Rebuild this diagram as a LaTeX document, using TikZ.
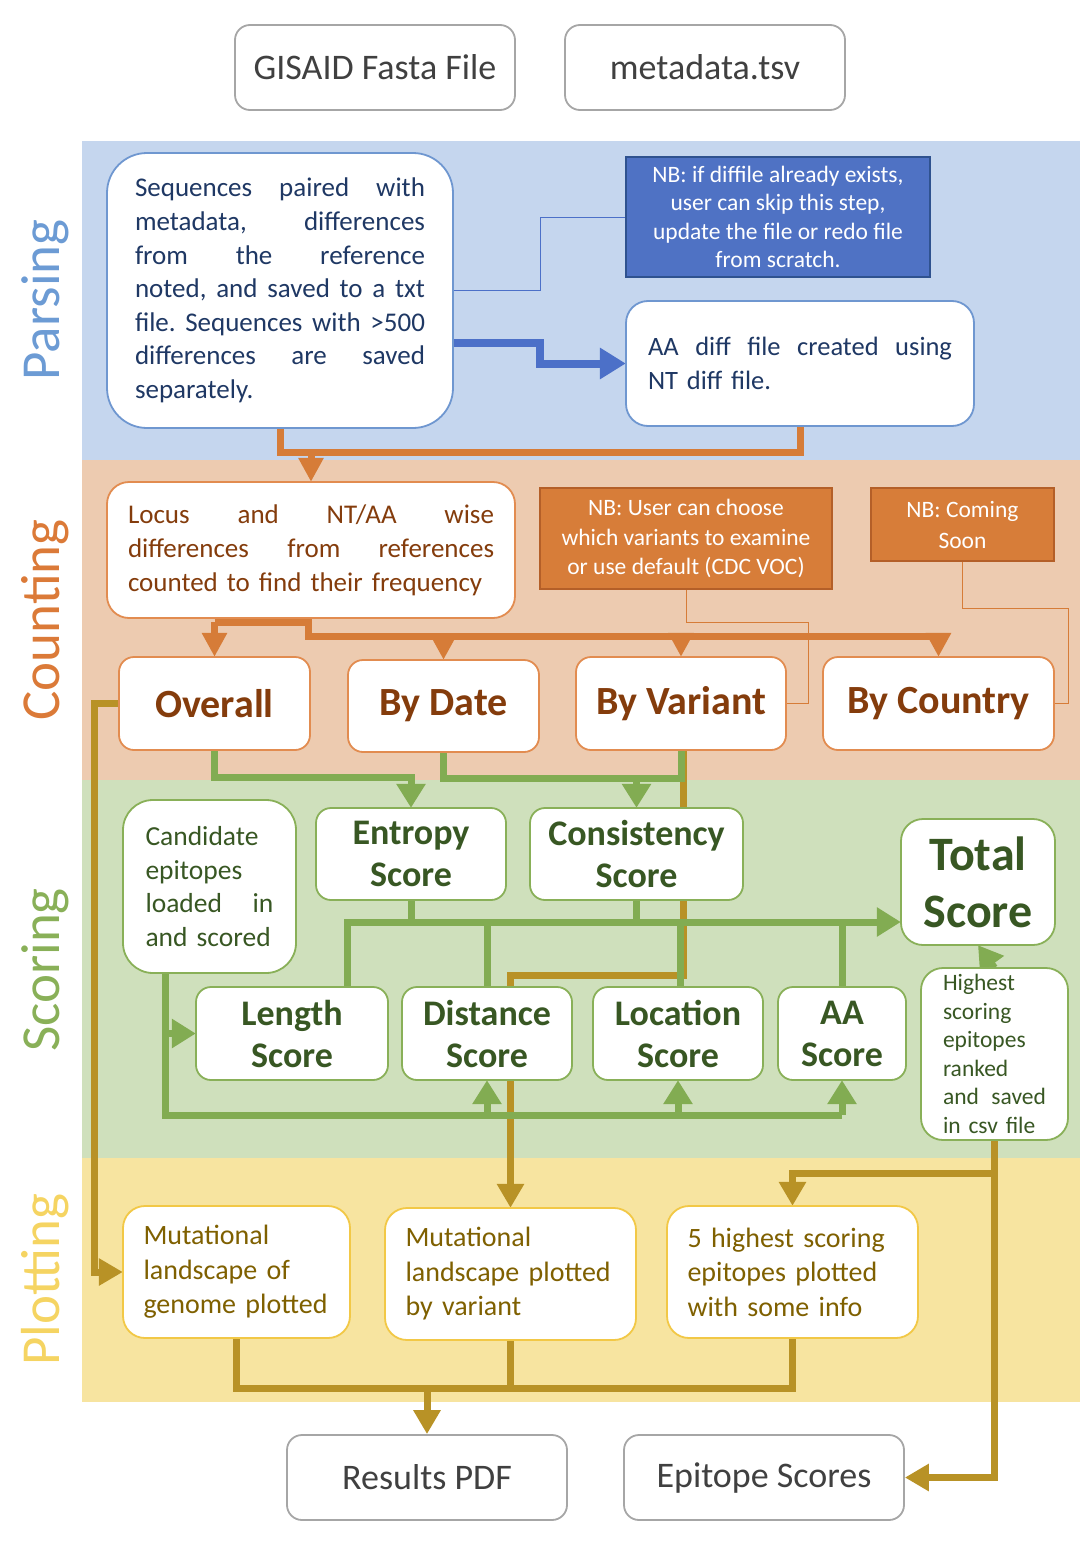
\documentclass[tikz,border=0pt]{standalone}
\usepackage{fontspec}
\setmainfont{Carlito}
\usetikzlibrary{arrows.meta,calc}
\definecolor{bandblue}{RGB}{197,214,238}
\definecolor{bandorange}{RGB}{237,203,176}
\definecolor{bandgreen}{RGB}{207,224,188}
\definecolor{bandyellow}{RGB}{247,228,160}
\definecolor{lblblue}{RGB}{108,155,212}
\definecolor{lblorange}{RGB}{219,122,56}
\definecolor{lblgreen}{RGB}{137,176,88}
\definecolor{lblyellow}{RGB}{245,212,98}
\definecolor{grayb}{RGB}{166,166,166}
\definecolor{grayt}{RGB}{64,64,64}
\definecolor{blueb}{RGB}{111,151,208}
\definecolor{bluet}{RGB}{31,56,100}
\definecolor{nbblue}{RGB}{79,114,196}
\definecolor{nbblueb}{RGB}{47,82,143}
\definecolor{orangeb}{RGB}{226,140,80}
\definecolor{oranget}{RGB}{132,60,12}
\definecolor{nborange}{RGB}{215,125,57}
\definecolor{nborangeb}{RGB}{180,95,40}
\definecolor{greenb}{RGB}{137,176,88}
\definecolor{greent}{RGB}{56,87,35}
\definecolor{yellowb}{RGB}{242,200,70}
\definecolor{yellowt}{RGB}{127,96,0}
\definecolor{lineblue}{RGB}{76,112,200}
\definecolor{lineorange}{RGB}{214,124,56}
\definecolor{linegreen}{RGB}{130,172,82}
\definecolor{linegold}{RGB}{184,146,38}
\newcommand\jl[2]{\leavevmode\hbox to #1{#2}}
\newcommand\fs[2]{\fontsize{#1}{#2}\selectfont}
\tikzset{
  box/.style={draw, line width=1.8pt, fill=white, inner sep=0pt, rounded corners=15pt},
  graybox/.style={box, draw=grayb, text=grayt, font=\fs{36}{40}},
  bluebox/.style={box, draw=blueb, text=bluet, font=\fs{27}{33.6}, align=left},
  nbbluebox/.style={draw=nbblueb, fill=nbblue, line width=1.8pt, text=white, inner sep=0pt, align=center, font=\fs{23.5}{28.6}},
  orangebox/.style={box, draw=orangeb, text=oranget},
  nborangebox/.style={draw=nborangeb, fill=nborange, line width=1.8pt, text=white, inner sep=0pt, align=center, font=\fs{23.5}{29.5}},
  greenbox/.style={box, draw=greenb, text=greent},
  yellowbox/.style={box, draw=yellowb, text=yellowt, font=\fs{28}{34.5}, align=left, rounded corners=22pt},
  bandlabel/.style={rotate=90, font=\fs{55}{60}, inner sep=0pt},
  bthin/.style={draw=lineblue, line width=1pt},
  bthick/.style={draw=lineblue, line width=8pt, -{Triangle[length=26pt,width=30pt]}},
  othin/.style={draw=lineorange, line width=1pt},
  oline/.style={draw=lineorange, line width=7pt},
  oarrow/.style={oline, -{Triangle[length=24pt,width=24pt]}},
  gline/.style={draw=linegreen, line width=7pt},
  garrow/.style={gline, -{Triangle[length=24pt,width=28pt]}},
  goldline/.style={draw=linegold, line width=7pt},
  goldarrow/.style={goldline, -{Triangle[length=24pt,width=26pt]}},
}
\begin{document}
\begin{tikzpicture}[x=1pt,y=-1pt]
\useasboundingbox (0,0) rectangle (1080,1560);
% bands
\fill[bandblue] (82,141) rectangle (1080,460);
\fill[bandorange] (82,460) rectangle (1080,780);
\fill[bandgreen] (82,780) rectangle (1080,1158);
\fill[bandyellow] (82,1158) rectangle (1080,1402);
\node[bandlabel, text=lblblue] (lparsing) at (45,300) {Parsing};
\node[bandlabel, text=lblorange] (lcounting) at (45,620) {Counting};
\node[bandlabel, text=lblgreen] (lscoring) at (45,970) {Scoring};
\node[bandlabel, text=lblyellow] (lplotting) at (45,1280) {Plotting};

\coordinate (oj) at (311,452);
\coordinate (c1) at (308,622);
\coordinate (c2) at (308,636);
\coordinate (n2a) at (808,622);
\coordinate (n3a) at (1068,608);
\coordinate (hz) at (500,922);
\coordinate (hb) at (500,1115);
\coordinate (hy) at (500,1173);
\coordinate (pb) at (500,1388);

% ---------- node frames for anchors ----------
\path
 node[graybox, minimum width=280pt, minimum height=85pt] (gisaid) at (375,67.5) {GISAID Fasta File}
 node[graybox, minimum width=280pt, minimum height=85pt] (meta) at (705,67.5) {metadata.tsv}
 node[minimum width=346pt, minimum height=275pt, inner sep=0pt] (seq) at (280,290.5) {}
 node[minimum width=304pt, minimum height=120pt, inner sep=0pt] (nb1) at (778,217) {}
 node[minimum width=348pt, minimum height=125pt, inner sep=0pt] (aadiff) at (800,363.5) {}
 node[minimum width=408pt, minimum height=136pt, inner sep=0pt] (locus) at (311,550) {}
 node[minimum width=292pt, minimum height=101pt, inner sep=0pt] (nb2) at (686,538.5) {}
 node[minimum width=183pt, minimum height=73pt, inner sep=0pt] (nb3) at (962.5,524.5) {}
 node[minimum width=191pt, minimum height=93pt, inner sep=0pt] (overall) at (214.5,703.5) {}
 node[minimum width=191pt, minimum height=92pt, inner sep=0pt] (bydate) at (443.5,706) {}
 node[minimum width=210pt, minimum height=93pt, inner sep=0pt] (byvar) at (681,703.5) {}
 node[minimum width=231pt, minimum height=93pt, inner sep=0pt] (bycountry) at (938.5,703.5) {}
 node[minimum width=173pt, minimum height=173pt, inner sep=0pt] (cand) at (209.5,886.5) {}
 node[minimum width=190pt, minimum height=92pt, inner sep=0pt] (entropy) at (411,854) {}
 node[minimum width=213pt, minimum height=92pt, inner sep=0pt] (consist) at (636.5,854) {}
 node[minimum width=154pt, minimum height=126pt, inner sep=0pt] (total) at (978,882) {}
 node[minimum width=147pt, minimum height=172pt, inner sep=0pt] (highest) at (994.5,1054) {}
 node[minimum width=192pt, minimum height=93pt, inner sep=0pt] (length) at (292,1033.5) {}
 node[minimum width=170pt, minimum height=93pt, inner sep=0pt] (distance) at (487,1033.5) {}
 node[minimum width=170pt, minimum height=93pt, inner sep=0pt] (location) at (678,1033.5) {}
 node[minimum width=128pt, minimum height=93pt, inner sep=0pt] (aa) at (842,1033.5) {}
 node[minimum width=227pt, minimum height=132pt, inner sep=0pt] (mut1) at (236.5,1272) {}
 node[minimum width=251pt, minimum height=132pt, inner sep=0pt] (mut2) at (510.5,1274) {}
 node[minimum width=251pt, minimum height=132pt, inner sep=0pt] (top5) at (792.5,1272) {}
 node[graybox, minimum width=280pt, minimum height=85pt] (results) at (427,1477.5) {Results PDF}
 node[graybox, minimum width=280pt, minimum height=85pt] (epitope) at (764,1477.5) {Epitope Scores};

% ---------- connectors ----------
\draw[bthin] (seq.east) -- ++(87,0) |- (nb1.west);
\draw[bthick] ([yshift=-52pt]seq.east) -- ++(87,0) |- (aadiff.west);
\draw[oline] (seq.south) |- (oj);
\draw[oline] (aadiff.south) |- (oj);
\draw[oarrow] (oj) -- (locus.north);
\draw[othin] (nb2.south) |- (n2a) |- (byvar.east);
\draw[othin] (nb3.south) |- (n3a) |- (bycountry.east);
\draw[oline] (overall.north |- c1) -- (c1) -- (c2) -- (bycountry.north |- c2);
\draw[oarrow] (overall.north |- c1) -- (overall.north);
\draw[oarrow] (bydate.north |- c2) -- (bydate.north);
\draw[oarrow] (byvar.north |- c2) -- (byvar.north);
\draw[oarrow] (bycountry.north |- c2) -- (bycountry.north);
\draw[goldarrow] ([xshift=2pt]byvar.south) -- ++(0,225) -| (mut2.north);
\draw[goldarrow] (overall.west) -- ++(-24,0) |- (mut1.west);
\draw[goldarrow] (highest.south) |- (epitope.east);
\draw[goldarrow] (highest.south |- hy) -| (top5.north);
\draw[goldline] (mut1.south) |- (top5.south |- pb) -- (top5.south);
\draw[goldline] (mut2.south) -- (mut2.south |- pb);
\draw[goldarrow] (results.north |- pb) -- (results.north);
\draw[garrow] (overall.south) |- ($(entropy.north)+(0,-30)$) -- (entropy.north);
\draw[gline] (bydate.south) |- ($(byvar.south)+(0,28)$) -- (byvar.south);
\draw[garrow] ($(consist.north)+(0,-30)$) -- (consist.north);
\draw[garrow] ([xshift=55pt]length.north) |- ([yshift=-40pt]total.west);
\draw[gline] (entropy.south) -- (entropy.south |- hz);
\draw[gline] (consist.south) -- (consist.south |- hz);
\draw[gline] (distance.north) -- (distance.north |- hz);
\draw[gline] ([xshift=2pt]location.north) -- ([xshift=2pt]location.north |- hz);
\draw[gline] (aa.north) -- (aa.north |- hz);
\coordinate (cv) at ([xshift=-44.5pt]cand.south);
\draw[gline] (cv) |- (aa.south |- hb);
\draw[garrow] (cv |- length.west) -- (length.west);
\draw[garrow] (distance.south |- hb) -- (distance.south);
\draw[garrow] (location.south |- hb) -- (location.south);
\draw[garrow] (aa.south |- hb) -- (aa.south);
\draw[garrow] (highest.north) -- (total.south);

% ---------- visible boxes ----------
\node[bluebox, rounded corners=40pt, minimum width=346pt, minimum height=275pt, text width=290pt] at (seq) {%
\jl{290pt}{Sequences\hfill paired\hfill with}\\
\jl{290pt}{metadata,\hfill differences}\\
\jl{290pt}{from\hfill the\hfill reference}\\
\jl{290pt}{noted,\hfill and\hfill saved\hfill to\hfill a\hfill txt}\\
\jl{290pt}{file.\hfill Sequences\hfill with\hfill >500}\\
\jl{290pt}{differences\hfill are\hfill saved}\\
separately.};
\node[nbbluebox, minimum width=304pt, minimum height=120pt] at (nb1) {NB: if diffile already exists,\\ user can skip this step,\\ update the file or redo file\\ from scratch.};
\node[bluebox, font=\fs{26.5}{33.6}, rounded corners=22pt, minimum width=348pt, minimum height=125pt, text width=304pt] at (aadiff) {%
\jl{304pt}{AA\hfill diff\hfill file\hfill created\hfill using}\\
NT diff file.};
\node[orangebox, rounded corners=22pt, minimum width=408pt, minimum height=136pt, text width=366pt, align=left, font=\fs{27}{34}] at (locus) {%
\jl{366pt}{Locus\hfill and\hfill NT/AA\hfill wise}\\
\jl{366pt}{differences\hfill from\hfill references}\\
counted to find their frequency};
\node[nborangebox, minimum width=292pt, minimum height=101pt] at (nb2) {NB: User can choose\\ which variants to examine\\ or use default (CDC VOC)};
\node[nborangebox, minimum width=183pt, minimum height=73pt, font=\fs{23.5}{31}] at (nb3) {NB: Coming\\ Soon};
\node[orangebox, minimum width=191pt, minimum height=93pt, font=\fs{40}{44}\bfseries] at (overall) {Overall};
\node[orangebox, minimum width=191pt, minimum height=92pt, font=\fs{40}{44}\bfseries] at (bydate) {By Date};
\node[orangebox, minimum width=210pt, minimum height=93pt, font=\fs{40}{44}\bfseries] at (byvar) {By Variant};
\node[orangebox, minimum width=231pt, minimum height=93pt, font=\fs{40}{44}\bfseries] at (bycountry) {By Country};

\node[greenbox, rounded corners=30pt, minimum width=173pt, minimum height=173pt, text width=128pt, align=left, font=\fs{27.5}{33.7}] at (cand) {%
Candidate\\ epitopes\\ \jl{128pt}{loaded\hfill in}\\ and scored};
\node[greenbox, minimum width=190pt, minimum height=92pt, align=center, font=\fs{36}{42}\bfseries] at (entropy) {Entropy\\ Score};
\node[greenbox, minimum width=213pt, minimum height=92pt, align=center, font=\fs{36}{42}\bfseries] at (consist) {Consistency\\ Score};
\node[greenbox, rounded corners=22pt, minimum width=154pt, minimum height=126pt, align=center, font=\fs{48}{57}\bfseries] at (total) {Total\\ Score};
\node[greenbox, rounded corners=22pt, minimum width=147pt, minimum height=172pt, text width=103pt, align=left, font=\fs{23.5}{28.6}] at (highest) {%
Highest\\ scoring\\ epitopes\\ ranked\\ \jl{103pt}{and\hfill saved}\\ in csv file};
\node[greenbox, minimum width=192pt, minimum height=93pt, align=center, font=\fs{36}{42}\bfseries] at (length) {Length\\ Score};
\node[greenbox, minimum width=170pt, minimum height=93pt, align=center, font=\fs{36}{42}\bfseries] at (distance) {Distance\\ Score};
\node[greenbox, minimum width=170pt, minimum height=93pt, align=center, font=\fs{36}{42}\bfseries] at (location) {Location\\ Score};
\node[greenbox, minimum width=128pt, minimum height=93pt, align=center, font=\fs{36}{42}\bfseries] at (aa) {AA\\ Score};

\node[yellowbox, minimum width=227pt, minimum height=132pt, text width=186pt] at (mut1) {Mutational\\ landscape of\\ genome plotted};
\node[yellowbox, minimum width=251pt, minimum height=132pt, text width=210pt] at (mut2) {Mutational\\ landscape plotted\\ by variant};
\node[yellowbox, minimum width=251pt, minimum height=132pt, text width=210pt] at (top5) {5 highest scoring\\ epitopes plotted\\ with some info};
\end{tikzpicture}
\end{document}
